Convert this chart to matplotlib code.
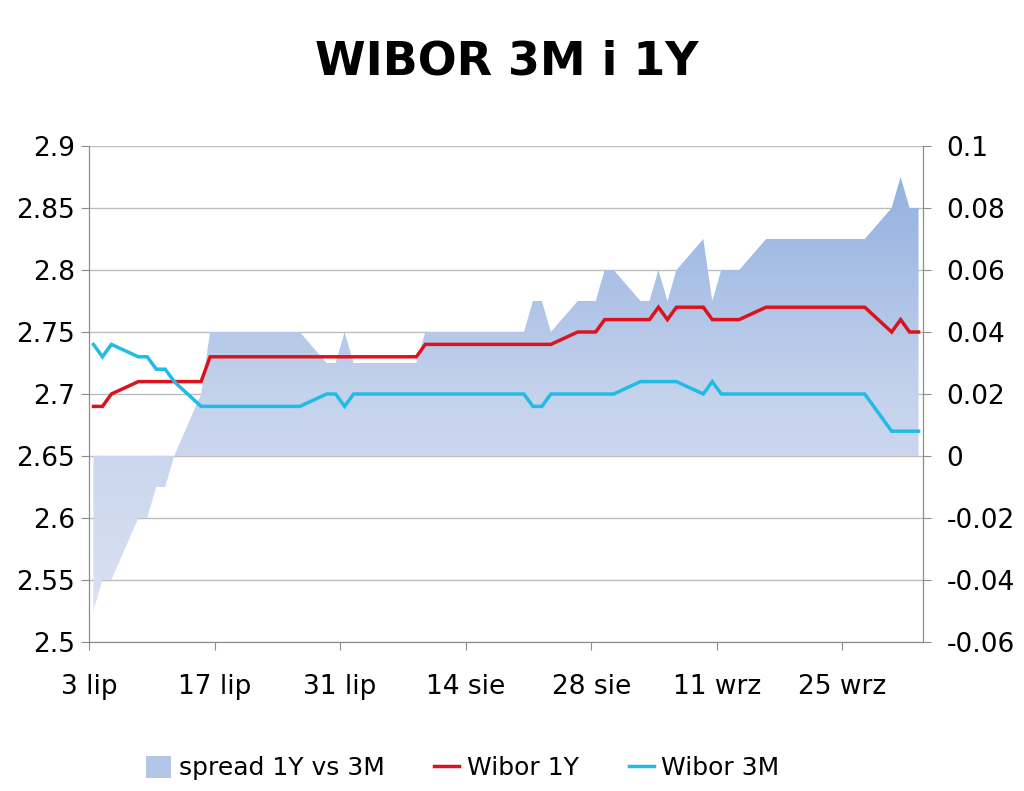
import matplotlib
matplotlib.use('Agg')
import matplotlib.pyplot as plt
import matplotlib.dates as mdates
from matplotlib.colors import LinearSegmentedColormap
from matplotlib.patches import Patch
from matplotlib.lines import Line2D
import numpy as np
import pandas as pd

# fixing days (business days, 15 Aug holiday)
dates = pd.bdate_range('2013-07-03', '2013-10-03')
dates = dates[dates != pd.Timestamp('2013-08-15')]

wibor_1y = [
    2.69, 2.69, 2.70,
    2.71, 2.71, 2.71, 2.71, 2.71,
    2.71, 2.73, 2.73, 2.73, 2.73,
    2.73, 2.73, 2.73, 2.73, 2.73,
    2.73, 2.73, 2.73,
    2.73, 2.73,
    2.73, 2.73, 2.73, 2.73, 2.74,
    2.74, 2.74, 2.74, 2.74,
    2.74, 2.74, 2.74, 2.74, 2.74,
    2.75, 2.75, 2.75, 2.76, 2.76,
    2.76, 2.76, 2.77, 2.76, 2.77,
    2.77, 2.76, 2.76, 2.76, 2.76,
    2.77, 2.77, 2.77, 2.77, 2.77,
    2.77, 2.77, 2.77, 2.77, 2.77,
    2.75,
    2.76, 2.75, 2.75,
]

wibor_3m = [
    2.74, 2.73, 2.74,
    2.73, 2.73, 2.72, 2.72, 2.71,
    2.69, 2.69, 2.69, 2.69, 2.69,
    2.69, 2.69, 2.69, 2.69, 2.69,
    2.70, 2.70, 2.69,
    2.70, 2.70,
    2.70, 2.70, 2.70, 2.70, 2.70,
    2.70, 2.70, 2.70, 2.70,
    2.70, 2.70, 2.69, 2.69, 2.70,
    2.70, 2.70, 2.70, 2.70, 2.70,
    2.71, 2.71, 2.71, 2.71, 2.71,
    2.70, 2.71, 2.70, 2.70, 2.70,
    2.70, 2.70, 2.70, 2.70, 2.70,
    2.70, 2.70, 2.70, 2.70, 2.70,
    2.67,
    2.67, 2.67, 2.67,
]

spread = [
    -0.05, -0.04, -0.04,
    -0.02, -0.02, -0.01, -0.01, 0.00,
    0.02, 0.04, 0.04, 0.04, 0.04,
    0.04, 0.04, 0.04, 0.04, 0.04,
    0.03, 0.03, 0.04,
    0.03, 0.03,
    0.03, 0.03, 0.03, 0.03, 0.04,
    0.04, 0.04, 0.04, 0.04,
    0.04, 0.04, 0.05, 0.05, 0.04,
    0.05, 0.05, 0.05, 0.06, 0.06,
    0.05, 0.05, 0.06, 0.05, 0.06,
    0.07, 0.05, 0.06, 0.06, 0.06,
    0.07, 0.07, 0.07, 0.07, 0.07,
    0.07, 0.07, 0.07, 0.07, 0.07,
    0.08,
    0.09, 0.08, 0.08,
]

tick_dates = ['2013-07-03', '2013-07-17', '2013-07-31', '2013-08-14',
              '2013-08-28', '2013-09-11', '2013-09-25']
tick_labels = ['3 lip', '17 lip', '31 lip', '14 sie', '28 sie', '11 wrz', '25 wrz']

left_ticks = [2.5, 2.55, 2.6, 2.65, 2.7, 2.75, 2.8, 2.85, 2.9]
right_ticks = [-0.06, -0.04, -0.02, 0, 0.02, 0.04, 0.06, 0.08, 0.1]

plt.rcParams['font.family'] = ['DejaVu Sans']
RED = '#D9141E'
CYAN = '#20BCE6'
AXIS_GREY = '#8C8C8C'
GRID_GREY = '#BDBDBD'

# points sit in the middle of each day's slot
x = mdates.date2num(dates) + 0.5

fig = plt.figure(figsize=(10.24, 7.91), dpi=100)
axr = fig.add_axes([0.0869, 0.1884, 0.8145, 0.627])
ax = axr.twinx()
ax.yaxis.tick_left()
axr.yaxis.tick_right()
ax.set_zorder(axr.get_zorder() + 1)
ax.patch.set_visible(False)

# spread area with vertical gradient
axr.set_ylim(-0.06, 0.1)
poly = axr.fill_between(x, 0, spread, color='none', lw=0, zorder=2)
cmap = LinearSegmentedColormap.from_list('sp', ['#DCE4F3', '#C4D2EC', '#8DACDF'])
grad = np.linspace(0, 1, 256).reshape(-1, 1)
xmin = mdates.date2num(pd.Timestamp('2013-07-03'))
xmax = mdates.date2num(pd.Timestamp('2013-10-04'))
im = axr.imshow(grad, cmap=cmap, origin='lower', aspect='auto',
                extent=[xmin, xmax, -0.06, 0.1], zorder=2)
im.set_clip_path(poly.get_paths()[0], transform=axr.transData)
axr.set_xlim(xmin, xmax)
axr.set_ylim(-0.06, 0.1)
axr.set_yticks(right_ticks)
axr.set_yticklabels(['-0.06', '-0.04', '-0.02', '0', '0.02', '0.04', '0.06', '0.08', '0.1'])
axr.grid(axis='y', color=GRID_GREY, lw=1)
axr.set_axisbelow(True)

ax.plot(x, wibor_1y, color=RED, lw=2.5, solid_joinstyle='miter')
ax.plot(x, wibor_3m, color=CYAN, lw=2.5, solid_joinstyle='miter')
ax.set_ylim(2.5, 2.9)
ax.set_yticks(left_ticks)
ax.set_yticklabels(['2.5', '2.55', '2.6', '2.65', '2.7', '2.75', '2.8', '2.85', '2.9'])
ax.set_xlim(xmin, xmax)

axr.set_xticks(mdates.date2num(pd.to_datetime(tick_dates)))
axr.set_xticklabels(tick_labels)

for a in (ax, axr):
    a.spines['top'].set_visible(False)
    for s in ('left', 'right', 'bottom'):
        a.spines[s].set_color(AXIS_GREY)
    a.tick_params(colors=AXIS_GREY, labelcolor='black', labelsize=19, length=6)
ax.tick_params(axis='y', pad=4)
axr.tick_params(axis='y', pad=11)
axr.tick_params(axis='x', pad=17)

fig.text(0.495, 1 - 62 / 791, 'WIBOR 3M i 1Y', ha='center', va='center',
         fontsize=33, fontweight='bold')

handles = [Patch(facecolor='#B3C6E8', edgecolor='none'),
           Line2D([], [], color=RED, lw=2.5),
           Line2D([], [], color=CYAN, lw=2.5)]
fig.legend(handles, ['spread 1Y vs 3M', 'Wibor 1Y', 'Wibor 3M'],
           loc='center', bbox_to_anchor=(0.452, 0.029), ncol=3, frameon=False,
           fontsize=18, handlelength=1.0, handleheight=1.0, handletextpad=0.3,
           columnspacing=2.0)

fig.savefig('out.png', dpi=100)
